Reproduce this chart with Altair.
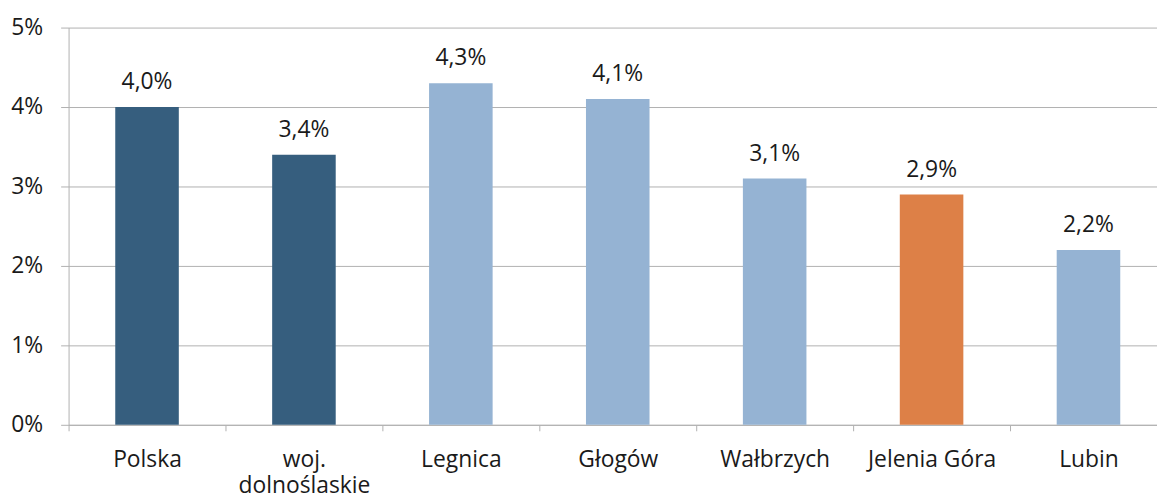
import json
import altair as alt
import pandas as pd

categories = ["Polska", "woj. dolnoślaskie", "Legnica", "Głogów", "Wałbrzych", "Jelenia Góra", "Lubin"]
values = [4.0, 3.4, 4.3, 4.1, 3.1, 2.9, 2.2]
colors = ["#365E7E", "#365E7E", "#95B3D3", "#95B3D3", "#95B3D3", "#DD8047", "#95B3D3"]
y_ticks = [0, 1, 2, 3, 4, 5]

n = len(categories)
df = pd.DataFrame({
    "cat": categories,
    "pos": [i + 0.5 for i in range(n)],
    "val": values,
    "col": colors,
})

label_lines = [["woj.", "dolnoślaskie"] if c == "woj. dolnoślaskie" else c for c in categories]
label_expr = json.dumps(label_lines, ensure_ascii=False) + "[datum.value]"

FONT = "Open Sans"
FS = 23
W = 1096
STEP = 158

x = alt.X("pos:Q", title=None,
          scale=alt.Scale(domain=[0, W / STEP], nice=False, zero=False, padding=0),
          axis=alt.Axis(values=list(range(n)), labelExpr=label_expr, labelOffset=STEP / 2,
                        tickSize=6, tickColor="#B0B0B0", domainColor="#B0B0B0",
                        labelFont=FONT, labelFontSize=FS, labelColor="#1a1a1a",
                        labelPadding=18, labelLineHeight=26, labelAlign="center",
                        labelFlush=False, labelOverlap=False, grid=False))

y = alt.Y("val:Q", title=None,
          scale=alt.Scale(domain=[0, 5], nice=False, padding=0),
          axis=alt.Axis(values=y_ticks, labelExpr="datum.value + '%'", tickSize=8,
                        tickColor="#B0B0B0", domainColor="#B0B0B0", gridColor="#B0B0B0",
                        labelFont=FONT, labelFontSize=FS, labelColor="#1a1a1a",
                        labelPadding=18, grid=True))

bars = alt.Chart(df).mark_bar(width=64).encode(
    x=x, y=y, color=alt.Color("col:N", scale=None)
)

labels = alt.Chart(df).transform_calculate(
    lbl="replace(format(datum.val, '.1f'), '.', ',') + '%'"
).mark_text(baseline="alphabetic", dy=-18, font=FONT, fontSize=FS, color="#1a1a1a").encode(
    x="pos:Q", y="val:Q", text="lbl:N"
)

chart = (bars + labels).properties(
    width=W, height=400,
    autosize=alt.AutoSizeParams(type="none"),
    padding={"left": 61, "top": 18, "right": 0, "bottom": 75},
).configure_view(stroke=None)

chart.save("out.html", embed_options={"renderer": "svg", "actions": False})
